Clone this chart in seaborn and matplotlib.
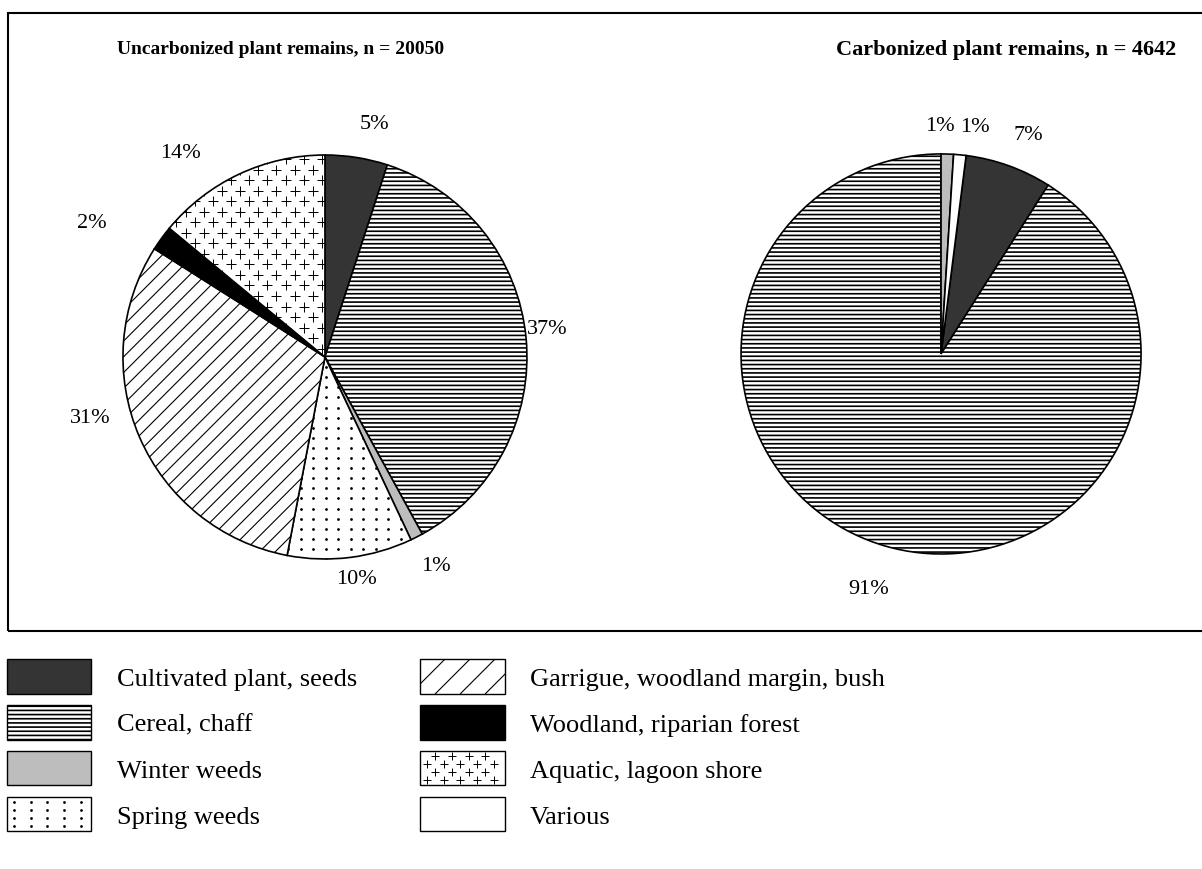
import numpy as np
import matplotlib
matplotlib.use('Agg')
import matplotlib.pyplot as plt
from matplotlib.patches import Patch, Rectangle
from matplotlib.lines import Line2D
from matplotlib.legend_handler import HandlerPatch
import seaborn as sns

# data
categories = ['Cultivated plant, seeds', 'Cereal, chaff', 'Winter weeds', 'Spring weeds',
              'Garrigue, woodland margin, bush', 'Woodland, riparian forest',
              'Aquatic, lagoon shore', 'Various']
uncarbonized = [5, 37, 1, 10, 31, 2, 14, 0]
carbonized = [7, 91, 1, 0, 0, 0, 0, 1]
titles = ['Uncarbonized plant remains, n = 20050', 'Carbonized plant remains, n = 4642']

# styles per category
fills = ['#343434', 'white', '#bdbdbd', 'white', 'white', 'black', 'white', 'white']
hatches = [None, '----', None, None, None, None, None, None]
# marker textures drawn on top (marker, size, edge width, dx, dy, staggered)
textures = {3: ('o', 2.0, 0.0, 0.062, 0.05, False),
            6: ('+', 6.5, 0.7, 0.09, 0.052, True)}
diag_step = 0.078  # spacing of the diagonal lines (garrigue)

# label placement tweaks (distance factor, angle shift in degrees) per category
left_lbl = [(1.18, -3), (1.11, 2), (1.17, 1), (1.11, 1), (1.20, -9), (1.33, 6), (1.24, 10), (1.15, 0)]
right_lbl = [(1.18, -2), (1.23, -1), (1.14, 2), (1.15, 0), (1.15, 0), (1.15, 0), (1.15, 0), (1.15, -3)]

sns.set_theme(style='white')
plt.rcParams['font.family'] = ['Liberation Serif', 'DejaVu Serif']
plt.rcParams['text.color'] = 'black'
plt.rcParams['hatch.linewidth'] = 1.2
plt.rcParams['hatch.color'] = 'black'


def texture(ax, patch, tex):
    mk, ms, mew, dx, dy, stag = tex
    xs, ys = [], []
    for i, y in enumerate(np.arange(-1.05, 1.06, dy)):
        for x in np.arange(-1.05 + (i % 2) * dx / 2 * stag, 1.06, dx):
            xs.append(x)
            ys.append(y)
    ax.plot(xs, ys, ls='none', marker=mk, ms=ms, mew=mew, color='black', clip_path=patch, zorder=3)


def diagonals(ax, patch):
    xs, ys = [], []
    for c in np.arange(-2.2, 2.2, diag_step):
        xs += [-1.1, 1.1, np.nan]
        ys += [-1.1 + c, 1.1 + c, np.nan]
    ax.plot(xs, ys, color='black', lw=0.8, clip_path=patch, zorder=3)


def draw_pie(ax, values, start, lbl):
    idx = [i for i, v in enumerate(values) if v > 0]
    vals = [values[i] for i in idx]
    wedges, _ = ax.pie(vals, colors=[fills[i] for i in idx], startangle=start, counterclock=False,
                       wedgeprops=dict(edgecolor='black', linewidth=1.2), radius=1)
    for w, i in zip(wedges, idx):
        if hatches[i]:
            w.set_hatch(hatches[i])
        if i in textures:
            texture(ax, w, textures[i])
        if i == 4:
            diagonals(ax, w)
        mid = np.deg2rad((w.theta1 + w.theta2) / 2 + lbl[i][1])
        d = lbl[i][0]
        ax.text(d * np.cos(mid), d * np.sin(mid), f'{values[i]}%', ha='center', va='center',
                fontsize=16, color='black')
    ax.set_xlim(-1, 1)
    ax.set_ylim(-1, 1)
    ax.set_aspect('equal')
    ax.axis('off')


class TextureHandler(HandlerPatch):
    def __init__(self, kind, mk=None, ms=0, mew=0, step=12, rows=4, stag=False):
        super().__init__()
        self.kind, self.mk, self.ms, self.mew = kind, mk, ms, mew
        self.step, self.rows, self.stag = step, rows, stag

    def create_artists(self, legend, orig_handle, xdescent, ydescent, width, height, fontsize, trans):
        x0, y0 = -xdescent, -ydescent
        rect = Rectangle((x0, y0), width, height, facecolor='white',
                         edgecolor='black', lw=1.0, transform=trans)
        if self.kind == 'lines':
            xs, ys = [], []
            for c in np.arange(-height, width + height, self.step):
                xs += [x0 + c, x0 + c + height, np.nan]
                ys += [y0, y0 + height, np.nan]
            art = Line2D(xs, ys, color='black', lw=0.8, transform=trans)
        else:
            xs, ys = [], []
            for i, y in enumerate(np.linspace(y0 + 4, y0 + height - 4, self.rows)):
                off = (i % 2) * self.step / 2 if self.stag else 0
                for x in np.arange(x0 + 5 + off, x0 + width - 2, self.step):
                    xs.append(x)
                    ys.append(y)
            art = Line2D(xs, ys, ls='none', marker=self.mk, ms=self.ms, mew=self.mew, color='black',
                         transform=trans)
        art.set_clip_path(rect)
        return [rect, art]


fig = plt.figure(figsize=(12.02, 8.70), dpi=100)
fig.patch.set_facecolor('white')

ax1 = fig.add_axes([0.1023, 0.3563, 0.3361, 0.4644])
draw_pie(ax1, uncarbonized, 90, left_lbl)
ax2 = fig.add_axes([0.6165, 0.3621, 0.3328, 0.4598])
draw_pie(ax2, carbonized, 82.8, right_lbl)

fig.text(281 / 1202, 1 - 50 / 870, titles[0], ha='center', va='center', fontsize=14, fontweight='bold')
fig.text(1006 / 1202, 1 - 50 / 870, titles[1], ha='center', va='center', fontsize=16, fontweight='bold')

# frame around the two pies
fig.add_artist(Rectangle((8 / 1202, 1 - 632 / 870), 1.0, (632 - 14) / 870, fill=False,
                         edgecolor='black', lw=1.5, transform=fig.transFigure))

handles = []
for i, c in enumerate(categories):
    handles.append(Patch(facecolor=fills[i], edgecolor='black', hatch=hatches[i], lw=1.0))
hmap = {handles[3]: TextureHandler('marks', 'o', 2.0, 0.0, 12, 4, False),
        handles[4]: TextureHandler('lines', step=18),
        handles[6]: TextureHandler('marks', '+', 5.5, 0.7, 12, 4, True)}
fig.legend(handles, categories, ncol=2, loc='upper left', bbox_to_anchor=(7 / 1202, 1 - 660 / 870),
           frameon=False, fontsize=19, handlelength=3.2, handleheight=1.65, handletextpad=0.95,
           columnspacing=2.4, labelspacing=0.42, borderpad=0, borderaxespad=0, handler_map=hmap)

fig.savefig('out.png', dpi=100)
